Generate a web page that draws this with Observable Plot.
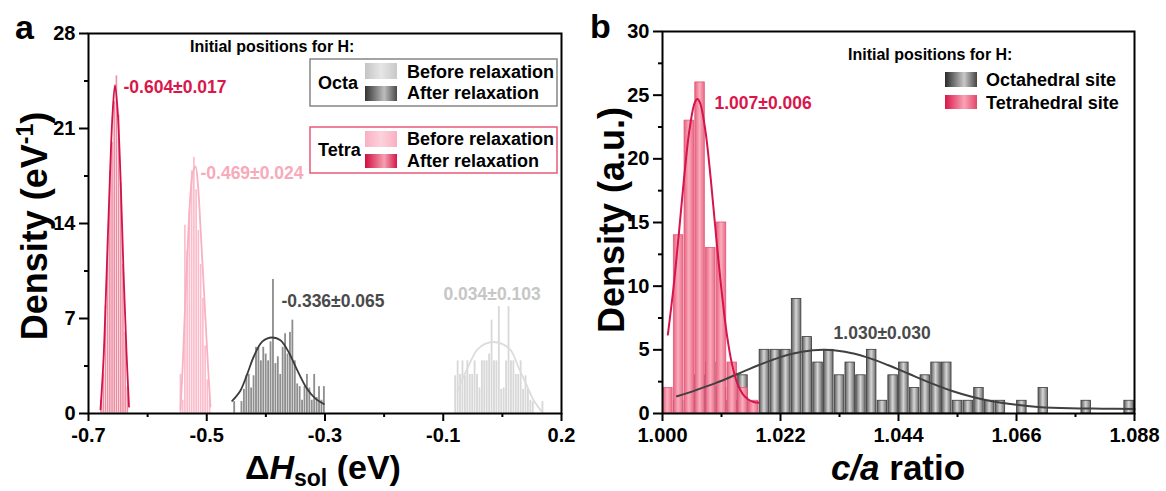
<!DOCTYPE html>
<html><head><meta charset="utf-8">
<script src="https://cdn.jsdelivr.net/npm/d3@7"></script>
<script src="https://cdn.jsdelivr.net/npm/@observablehq/plot@0.6"></script>
<style>
body{margin:0;background:#fff;}
#wrap{display:flex;width:1166px;height:491px;overflow:hidden;}
</style></head><body><div id="wrap"></div>
<script>
// ---------- Panel a data ----------
const aXTicks = [-0.7, -0.5, -0.3, -0.1, 0.1];
const aXTickLabels = ["-0.7", "-0.5", "-0.3", "-0.1", "0.2"];
const aXMinor = [-0.6, -0.4, -0.2, 0.0];
const aYTicks = [0, 7, 14, 21, 28];
const aYMinor = [3.5, 10.5, 17.5, 24.5];

const tetraAfterStart = -0.6797, tetraAfterBin = 0.0037;
const tetraAfterHeights = [1, 3, 8, 13, 17.9, 20, 23, 24.9, 22, 17, 11, 6, 2];
const tetraBeforeStart = -0.5456, tetraBeforeBin = 0.0038;
const tetraBeforeHeights = [2.9, 1.0, 13.9, 12.0, 15.0, 17.9, 18.9, 16.5, 13.5, 11.0, 8.5, 5.0, 2.5, 1.0];
const octaAfterStart = -0.4548, octaAfterBin = 0.0041;
const octaAfterHeights = [0.9, 0, 0, 0.9, 1.8, 2.8, 2.9, 1.9, 2.8, 4.9, 4.9, 3.9, 4.9, 4.4, 3.9, 5.3, 9.9, 3.7, 4.2, 2.9, 4.9, 5.9, 4.4, 6.0, 6.9, 3.9, 2.2, 2.0, 1.0, 2.0, 2.9, 1.9, 1.0, 2.9, 1.2, 2.0, 1.0, 2.0];
const octaBeforeStart = -0.081, octaBeforeBin = 0.0041;
const octaBeforeHeights = [2.8, 3.9, 2.9, 3.9, 2.8, 3.9, 2.9, 2.9, 3.9, 2.9, 1.9, 3.9, 3.9, 3.9, 4.4, 6.9, 3.9, 3.9, 7.9, 1.8, 1.9, 3.9, 7.9, 3.9, 3.9, 2.9, 2.9, 3.9, 1.8, 2.8, 1.8, 1.0, 0.9, 0, 0, 0, 0.9];

const tetraAfterFit = [[-0.6797,0.3],[-0.6746,4],[-0.6696,10],[-0.6645,16.5],[-0.6594,22],[-0.6552,24.2],[-0.6510,22.5],[-0.6459,17.5],[-0.6408,10.5],[-0.6357,4.5],[-0.6315,0.5]];
const tetraBeforeFit = [[-0.5444,0.3],[-0.5402,4],[-0.5359,8.8],[-0.5317,12.8],[-0.5275,16.2],[-0.5233,17.8],[-0.5190,18.2],[-0.5148,16.8],[-0.5106,13.7],[-0.5063,10.3],[-0.5021,6.9],[-0.4979,3.5],[-0.4937,0.5]];
const octaAfterFit = [[-0.4570,0.93],[-0.4429,1.7],[-0.4316,2.9],[-0.4204,4.2],[-0.4062,5.3],[-0.3893,5.6],[-0.3753,5.4],[-0.3612,4.5],[-0.3470,3.2],[-0.3301,1.8],[-0.3161,1.1],[-0.3020,0.7]];
const octaBeforeFit = [[-0.0764,1.6],[-0.0595,3.3],[-0.0426,4.7],[-0.0285,5.15],[-0.0150,5.27],[-0.0015,5.15],[0.0137,4.7],[0.0273,3.4],[0.0420,2.0],[0.0526,1.0],[0.0674,0.1]];

const aAnnotations = ["-0.604\u00b10.017", "-0.469\u00b10.024", "-0.336\u00b10.065", "0.034\u00b10.103"];

// ---------- Panel b data ----------
const bXTicks = [1.000, 1.022, 1.044, 1.066, 1.088];
const bXTickLabels = ["1.000", "1.022", "1.044", "1.066", "1.088"];
const bXMinor = [1.011, 1.033, 1.055, 1.077];
const bYTicks = [0, 5, 10, 15, 20, 25, 30];
const bYMinor = [2.5, 7.5, 12.5, 17.5, 22.5, 27.5];

const bBinStart = 1.000, bBinWidth = 0.002;
const octaSiteCounts = [0,1,0,3,4,2,1,3,0, 5,5,5,9,6,4,5,3,4,3,5,1,3,4,2,3,4,4, 1,1,2,1,1,0,1,0,2,0,0,0,1,0,0,0,1];
const tetraSiteCounts = [2,14,23,26,13,15,4,2,1];
const tetraSiteFit = [[1.001,6.2],[1.002,9.7],[1.003,13.9],[1.004,18.4],[1.005,22.2],[1.006,24.4],[1.0065,24.7],[1.007,24.4],[1.008,22.2],[1.009,18.4],[1.010,13.9],[1.011,9.7],[1.012,6.2],[1.013,3.8],[1.014,2.3],[1.015,1.5],[1.016,1.1],[1.017,0.9],[1.018,0.85]];
const octaSiteFit = [[1.0027,1.36],[1.006,1.8],[1.010,2.4],[1.014,3.1],[1.018,3.81],[1.022,4.43],[1.026,4.85],[1.030,5.0],[1.034,4.85],[1.038,4.43],[1.042,3.81],[1.046,3.1],[1.050,2.4],[1.054,1.77],[1.058,1.28],[1.062,0.92],[1.066,0.68],[1.070,0.52],[1.076,0.41],[1.082,0.38],[1.088,0.36]];
const bAnnotations = ["1.007\u00b10.006", "1.030\u00b10.030"];

// ---------- helpers ----------
const FONT = "'Liberation Sans', Arial, Helvetica, sans-serif";
function bins(start, width, heights) {
  return heights.map((h, i) => ({x1: start + i * width, x2: start + (i + 1) * width, y: h})).filter(d => d.y > 0);
}
function addGrad(svg, id, stops) {
  let defs = d3.select(svg).select("defs");
  if (defs.empty()) defs = d3.select(svg).insert("defs", ":first-child");
  const g = defs.append("linearGradient").attr("id", id).attr("x1", 0).attr("x2", 1).attr("y1", 0).attr("y2", 0);
  stops.forEach(([o, c]) => g.append("stop").attr("offset", o).attr("stop-color", c));
}
function axes(xT, xL, xMinor, yT, yMinor) {
  const xm = new Map(xT.map((v, i) => [v, xL[i]]));
  return [
    Plot.axisX({ticks: xT, tickFormat: d => xm.get(d), tickSize: 8, tickPadding: 6, strokeWidth: 2, label: null, fontSize: 20, fontWeight: "bold"}),
    Plot.axisX({ticks: xMinor, tickFormat: () => "", tickSize: 4, strokeWidth: 2, label: null}),
    Plot.axisY({ticks: yT, tickFormat: d => String(d), tickSize: 9, tickPadding: 4, strokeWidth: 2, label: null, fontSize: 20, fontWeight: "bold"}),
    Plot.axisY({ticks: yMinor, tickFormat: () => "", tickSize: 4, strokeWidth: 2, label: null})
  ];
}
const style = {fontFamily: FONT, fontSize: "20px", fontWeight: "bold", color: "black", background: "white", overflow: "visible"};

// ---------- Panel a ----------
const svgA = Plot.plot({
  width: 583, height: 491,
  marginLeft: 88, marginRight: 22, marginTop: 33, marginBottom: 78,
  style,
  x: {domain: [-0.7, 0.1], axis: null},
  y: {domain: [0, 28], axis: null},
  marks: [
    Plot.rectY(bins(octaBeforeStart, octaBeforeBin, octaBeforeHeights), {x1: "x1", x2: "x2", y: "y", fill: "#d8d8d8", inset: 0.3}),
    Plot.rectY(bins(octaAfterStart, octaAfterBin, octaAfterHeights), {x1: "x1", x2: "x2", y: "y", fill: "#8e8e8e", inset: 0.3}),
    Plot.rectY(bins(tetraBeforeStart, tetraBeforeBin, tetraBeforeHeights), {x1: "x1", x2: "x2", y: "y", fill: "#fbbccb", inset: 0.3}),
    Plot.rectY(bins(tetraAfterStart, tetraAfterBin, tetraAfterHeights), {x1: "x1", x2: "x2", y: "y", fill: "#ee8ea2", inset: 0.3}),
    Plot.line(octaBeforeFit, {x: d => d[0], y: d => d[1], stroke: "#dcdcdc", strokeWidth: 1.8, curve: "catmull-rom"}),
    Plot.line(octaAfterFit, {x: d => d[0], y: d => d[1], stroke: "#3c3c3c", strokeWidth: 1.8, curve: "catmull-rom"}),
    Plot.line(tetraBeforeFit, {x: d => d[0], y: d => d[1], stroke: "#f9b0c1", strokeWidth: 1.8, curve: "catmull-rom"}),
    Plot.line(tetraAfterFit, {x: d => d[0], y: d => d[1], stroke: "#d4134a", strokeWidth: 1.8, curve: "catmull-rom"}),
    Plot.text([aAnnotations[0]], {x: -0.6408, y: 24.0, text: d => d, textAnchor: "start", fill: "#d8174c", fontSize: 17.5, fontWeight: "bold"}),
    Plot.text([aAnnotations[1]], {x: -0.5106, y: 17.7, text: d => d, textAnchor: "start", fill: "#f8a9ba", fontSize: 17.5, fontWeight: "bold"}),
    Plot.text([aAnnotations[2]], {x: -0.3736, y: 8.23, text: d => d, textAnchor: "start", fill: "#4a4a4a", fontSize: 17.5, fontWeight: "bold"}),
    Plot.text([aAnnotations[3]], {x: -0.0996, y: 8.75, text: d => d, textAnchor: "start", fill: "#c6c6c6", fontSize: 17.5, fontWeight: "bold"}),
    Plot.frame({stroke: "black", strokeWidth: 2}),
    ...axes(aXTicks, aXTickLabels, aXMinor, aYTicks, aYMinor)
  ]
});

// ---------- Panel b ----------
const svgB = Plot.plot({
  width: 583, height: 491,
  marginLeft: 79, marginRight: 32, marginTop: 31, marginBottom: 78,
  style,
  x: {domain: [1.000, 1.088], axis: null},
  y: {domain: [0, 30], axis: null},
  marks: [
    Plot.rectY(bins(bBinStart, bBinWidth, octaSiteCounts), {x1: "x1", x2: "x2", y: "y", fill: "url(#gBarGray)", stroke: "#3a3a3a", strokeWidth: 0.8, insetLeft: 0.6, insetRight: 0.6}),
    Plot.rectY(bins(bBinStart, bBinWidth, tetraSiteCounts), {x1: "x1", x2: "x2", y: "y", fill: "url(#gBarRed)", stroke: "#e2587a", strokeWidth: 0.8, insetLeft: 0.6, insetRight: 0.6}),
    Plot.line(octaSiteFit, {x: d => d[0], y: d => d[1], stroke: "#404040", strokeWidth: 2, curve: "catmull-rom"}),
    Plot.line(tetraSiteFit, {x: d => d[0], y: d => d[1], stroke: "#d6134a", strokeWidth: 2, curve: "catmull-rom"}),
    Plot.text([bAnnotations[0]], {x: 1.0097, y: 24.35, text: d => d, textAnchor: "start", fill: "#d8174c", fontSize: 17.5, fontWeight: "bold"}),
    Plot.text([bAnnotations[1]], {x: 1.0319, y: 6.28, text: d => d, textAnchor: "start", fill: "#4a4a4a", fontSize: 17.5, fontWeight: "bold"}),
    Plot.frame({stroke: "black", strokeWidth: 2}),
    ...axes(bXTicks, bXTickLabels, bXMinor, bYTicks, bYMinor)
  ]
});

// ---------- gradients ----------
addGrad(svgB, "gBarGray", [[0, "#5a5a5a"], [0.5, "#d6d6d6"], [1, "#6a6a6a"]]);
addGrad(svgB, "gBarRed", [[0, "#e8607e"], [0.5, "#f9aebd"], [1, "#ea6a86"]]);
addGrad(svgB, "gLegGray", [[0, "#2a2a2a"], [0.6, "#c8c8c8"], [1, "#444"]]);
addGrad(svgB, "gLegRed", [[0, "#d8174a"], [0.6, "#f9a3b4"], [1, "#e2456a"]]);
addGrad(svgA, "gOctaBefore", [[0, "#c4c4c4"], [0.5, "#e6e6e6"], [1, "#c8c8c8"]]);
addGrad(svgA, "gOctaAfter", [[0, "#333"], [0.6, "#bdbdbd"], [1, "#4a4a4a"]]);
addGrad(svgA, "gTetraBefore", [[0, "#f9b0c1"], [0.5, "#fcd2dc"], [1, "#f9b0c1"]]);
addGrad(svgA, "gTetraAfter", [[0, "#cf0e3e"], [0.6, "#f5a0b1"], [1, "#d3184a"]]);

// ---------- extra text & legends ----------
function txt(sel, x, y, s, size, opts = {}) {
  const t = sel.append("text").attr("x", x).attr("y", y).attr("font-size", size)
    .attr("font-weight", "bold").attr("font-family", FONT).attr("fill", opts.fill || "black")
    .attr("text-anchor", opts.anchor || "start");
  t.text(s);
  return t;
}
const A = d3.select(svgA), B = d3.select(svgB);

// panel letters
txt(A, 15, 39, "a", 34);
txt(B, 7, 38, "b", 34);

// y labels
{
  const t = A.append("text").attr("transform", "translate(47,226) rotate(-90)").attr("text-anchor", "middle")
    .attr("font-size", 36).attr("font-weight", "bold").attr("font-family", FONT);
  t.append("tspan").text("Density (eV");
  t.append("tspan").attr("font-size", 23).attr("dy", -14).text("-1");
  t.append("tspan").attr("dy", 14).text(")");
}
{
  const t = B.append("text").attr("transform", "translate(41,220) rotate(-90)").attr("text-anchor", "middle")
    .attr("font-size", 36).attr("font-weight", "bold").attr("font-family", FONT);
  t.text("Density (a.u.)");
}
// x labels
{
  const t = A.append("text").attr("x", 323).attr("y", 479).attr("text-anchor", "middle")
    .attr("font-size", 34).attr("font-weight", "bold").attr("font-family", FONT);
  t.append("tspan").text("\u0394");
  t.append("tspan").attr("font-style", "italic").text("H");
  t.append("tspan").attr("font-size", 23).attr("dy", 7).text("sol");
  t.append("tspan").attr("dy", -7).text(" (eV)");
}
{
  const t = B.append("text").attr("x", 315).attr("y", 480).attr("text-anchor", "middle")
    .attr("font-size", 35).attr("font-weight", "bold").attr("font-family", FONT);
  t.append("tspan").attr("font-style", "italic").text("c/a");
  t.append("tspan").text(" ratio");
}

// legend a
txt(A, 190, 52, "Initial positions for H:", 16);
A.append("rect").attr("x", 310).attr("y", 59).attr("width", 247).attr("height", 47).attr("fill", "white").attr("stroke", "#858585").attr("stroke-width", 1.5);
txt(A, 318, 89, "Octa", 18);
A.append("rect").attr("x", 365).attr("y", 63).attr("width", 32).attr("height", 16).attr("fill", "url(#gOctaBefore)");
A.append("rect").attr("x", 365).attr("y", 86).attr("width", 32).attr("height", 15).attr("fill", "url(#gOctaAfter)");
txt(A, 407, 78, "Before relaxation", 18);
txt(A, 407, 99, "After relaxation", 18);
A.append("rect").attr("x", 310).attr("y", 127).attr("width", 247).attr("height", 46).attr("fill", "white").attr("stroke", "#ea5a78").attr("stroke-width", 1.5);
txt(A, 318, 156, "Tetra", 18);
A.append("rect").attr("x", 365).attr("y", 131).attr("width", 32).attr("height", 16).attr("fill", "url(#gTetraBefore)");
A.append("rect").attr("x", 365).attr("y", 154).attr("width", 32).attr("height", 14).attr("fill", "url(#gTetraAfter)");
txt(A, 407, 145, "Before relaxation", 18);
txt(A, 407, 167, "After relaxation", 18);

// legend b
txt(B, 265, 60, "Initial positions for H:", 16);
B.append("rect").attr("x", 362).attr("y", 72).attr("width", 32).attr("height", 15).attr("fill", "url(#gLegGray)");
B.append("rect").attr("x", 362).attr("y", 95).attr("width", 32).attr("height", 14).attr("fill", "url(#gLegRed)");
txt(B, 403, 86, "Octahedral site", 18);
txt(B, 403, 109, "Tetrahedral site", 18);

document.getElementById("wrap").append(svgA, svgB);
</script></body></html>
